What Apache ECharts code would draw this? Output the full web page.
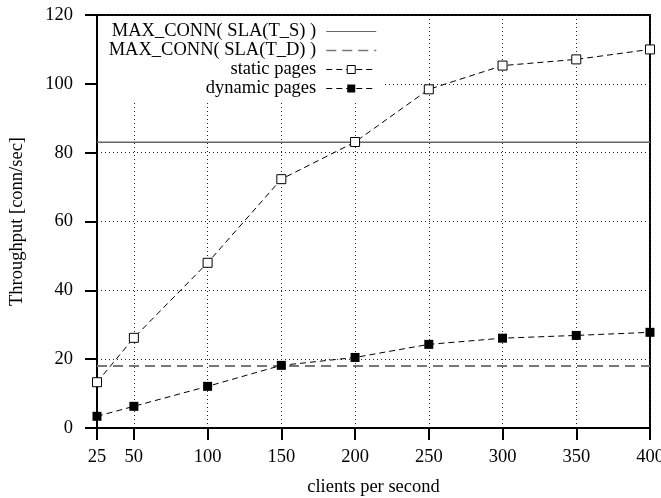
<!DOCTYPE html>
<html>
<head>
<meta charset="utf-8">
<script src="https://cdn.jsdelivr.net/npm/echarts@6/dist/echarts.min.js"></script>
<style>html,body{margin:0;padding:0;background:#fff;}#c{width:661px;height:498px;}</style>
</head>
<body>
<div id="c"></div>
<script>
var clients = [25, 50, 100, 150, 200, 250, 300, 350, 400];
var staticPages = [13.3, 26.2, 48.0, 72.3, 83.1, 98.4, 105.3, 107.1, 110.0];
var dynamicPages = [3.4, 6.3, 12.1, 18.2, 20.5, 24.3, 26.1, 26.9, 27.8];
var slaTS = 83;
var slaTD = 18;
var xTicks = [25, 50, 100, 150, 200, 250, 300, 350, 400];
var yTicks = [0, 20, 40, 60, 80, 100, 120];
var names = ['MAX_CONN( SLA(T_S) )', 'MAX_CONN( SLA(T_D) )', 'static pages', 'dynamic pages'];

var FONT = '"Liberation Serif", "Times New Roman", serif';
var FS = 18.5;

function pairs(xs, ys) { return xs.map(function (x, i) { return [x, ys[i]]; }); }
var xMin = clients[0], xMax = clients[clients.length - 1];

var chart = echarts.init(document.getElementById('c'), null, {renderer: 'canvas'});
chart.setOption({
  animation: false,
  backgroundColor: '#fff',
  textStyle: {fontFamily: FONT, color: '#000'},
  grid: {left: 97, right: 11, top: 15, bottom: 70, outerBoundsMode: 'none', containLabel: false,
         show: true, borderColor: '#000', borderWidth: 2, backgroundColor: 'transparent'},
  legend: {
    orient: 'vertical', align: 'right', right: 276, top: 19,
    itemWidth: 50, itemHeight: 10, itemGap: 0,
    padding: [3, 8, 4, 8],
    backgroundColor: '#fff',
    textStyle: {fontFamily: FONT, fontSize: FS, color: '#000', padding: [0, 5, 0, 0]},
    data: [
      {name: names[0], itemStyle: {opacity: 0}, lineStyle: {width: 1}},
      {name: names[1], itemStyle: {opacity: 0}, lineStyle: {width: 1.5}},
      {name: names[2], lineStyle: {width: 1}, itemStyle: {borderWidth: 1}},
      {name: names[3], lineStyle: {width: 1}}
    ]
  },
  xAxis: {
    type: 'value', min: xMin, max: xMax,
    name: 'clients per second', nameLocation: 'middle', nameGap: 50,
    nameTextStyle: {fontFamily: FONT, fontSize: FS, color: '#000'},
    axisLine: {onZero: false, lineStyle: {color: '#000', width: 2}},
    axisTick: {inside: false, length: 12, customValues: xTicks, lineStyle: {color: '#000', width: 2}},
    axisLabel: {customValues: xTicks, margin: 20, fontFamily: FONT, fontSize: FS, color: '#000'},
    splitLine: {show: true, lineStyle: {color: '#222', width: 1, type: [1, 3]}}
  },
  yAxis: {
    type: 'value', min: yTicks[0], max: yTicks[yTicks.length - 1], interval: 20,
    name: 'Throughput [conn/sec]', nameLocation: 'middle', nameGap: 70, nameRotate: 90,
    nameTextStyle: {fontFamily: FONT, fontSize: FS, color: '#000'},
    axisLine: {lineStyle: {color: '#000', width: 2}},
    axisTick: {inside: false, length: 12, lineStyle: {color: '#000', width: 2}},
    axisLabel: {margin: 24, fontFamily: FONT, fontSize: FS, color: '#000'},
    splitLine: {show: true, lineStyle: {color: '#222', width: 1, type: [1, 3]}}
  },
  series: [
    {
      name: names[0], type: 'line', data: [[xMin, slaTS], [xMax, slaTS]],
      symbol: 'none', color: '#666',
      lineStyle: {color: '#666', width: 1.5, type: 'solid'}, z: 1
    },
    {
      name: names[1], type: 'line', data: [[xMin, slaTD], [xMax, slaTD]],
      symbol: 'none', color: '#777',
      lineStyle: {color: '#777', width: 2, type: [10, 6]}, z: 1
    },
    {
      name: names[2], type: 'line', data: pairs(clients, staticPages),
      symbol: 'rect', symbolSize: 9, color: '#000',
      itemStyle: {color: '#fff', borderColor: '#000', borderWidth: 1},
      lineStyle: {color: '#000', width: 1, type: [6, 4]}, z: 3
    },
    {
      name: names[3], type: 'line', data: pairs(clients, dynamicPages),
      symbol: 'rect', symbolSize: 9, color: '#000',
      itemStyle: {color: '#000'},
      lineStyle: {color: '#000', width: 1, type: [6, 4]}, z: 3
    }
  ]
});
</script>
</body>
</html>
